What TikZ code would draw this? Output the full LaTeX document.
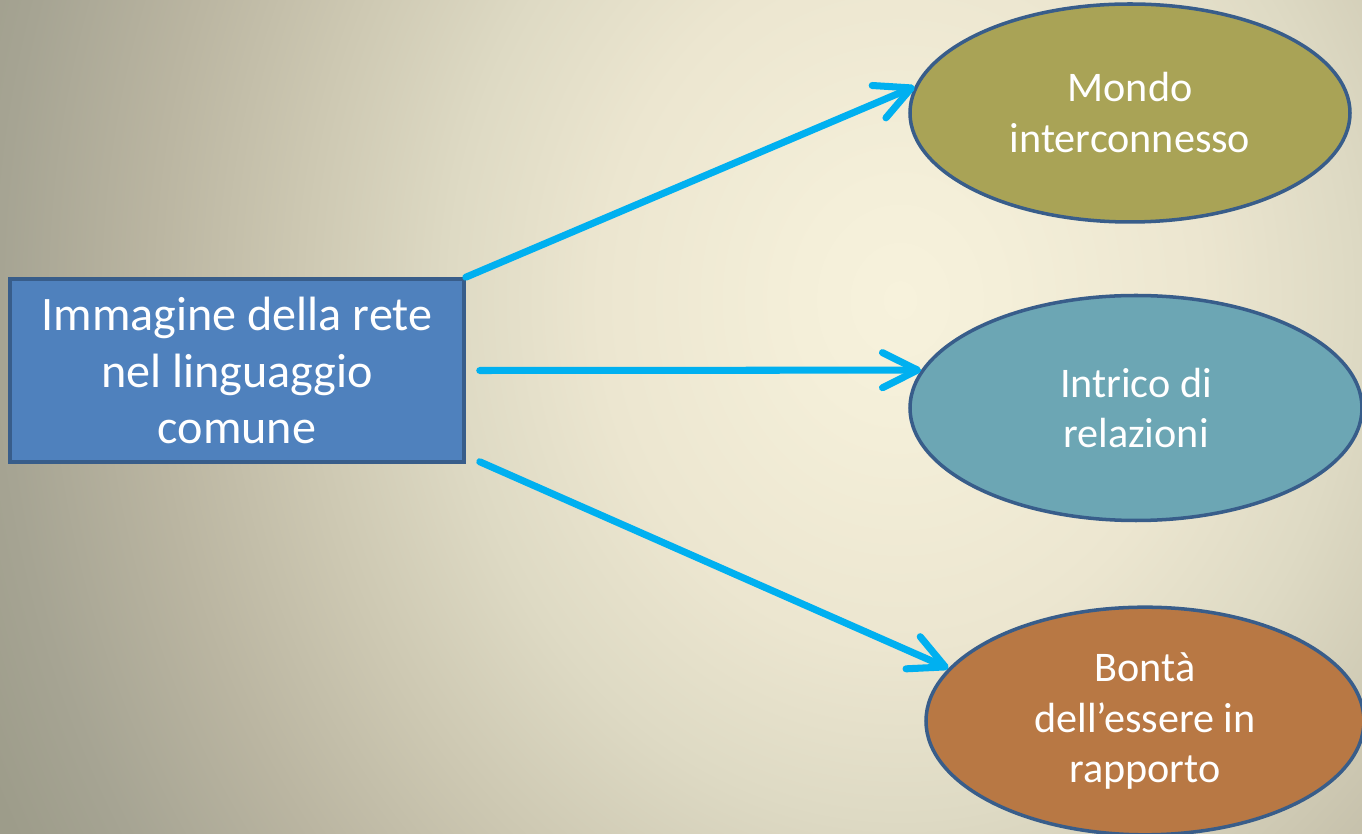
\documentclass[tikz,border=0pt]{standalone}
\usepackage{fontspec}
\setmainfont{Carlito}
\usepackage{tikz}
\usetikzlibrary{positioning, arrows.meta, shapes.geometric}

\definecolor{boxblue}{HTML}{4F81BD}
\definecolor{rim}{HTML}{385D8A}
\definecolor{olive}{HTML}{A9A356}
\definecolor{teal}{HTML}{6CA6B4}
\definecolor{clay}{HTML}{B87844}
\definecolor{arrowblue}{HTML}{00B0F0}

% slide background, 1bp = 0.4cm across
\pgfdeclareradialshading{slidebg}{\pgfpointorigin}{%
  color(0bp)=(rgb,255:red,247;green,242;blue,220);
  color(2.5bp)=(rgb,255:red,244;green,239;blue,217);
  color(7.5bp)=(rgb,255:red,236;green,230;blue,208);
  color(11.25bp)=(rgb,255:red,222;green,218;blue,196);
  color(15bp)=(rgb,255:red,205;green,200;blue,178);
  color(18.75bp)=(rgb,255:red,186;green,181;blue,161);
  color(22.5bp)=(rgb,255:red,166;green,164;blue,147);
  color(25bp)=(rgb,255:red,157;green,156;blue,138);
  color(50bp)=(rgb,255:red,157;green,156;blue,138)}

\begin{document}
\begin{tikzpicture}[
		box/.style={rectangle,draw=rim,line width=1pt,fill=boxblue,text=white,align=center,
			minimum width=4.54cm,minimum height=1.83cm,
			font=\fontsize{13.7}{16.2}\selectfont},
		bubble/.style={ellipse,draw=rim,line width=1pt,text=white,align=center,
			font=\fontsize{12}{14.5}\selectfont},
		link/.style={draw=arrowblue,line width=2pt,line cap=round,
			-{Straight Barb[length=10pt,width=10pt,round]}}]
		\useasboundingbox (0,0) rectangle (13.62,8.34);
		\begin{scope}
			\clip (0,0) rectangle (13.62,8.34);
			\shade[shading=slidebg] (-1,-6.16) rectangle (19,16.84);
		\end{scope}

		\node[box] (img) at (2.37,4.635) {Immagine della rete\\nel linguaggio\\comune};

		\node[bubble,fill=olive,minimum width=4.40cm,minimum height=2.18cm] (mondo) at (11.30,7.21) {Mondo\\interconnesso};
		\node[bubble,fill=teal,minimum width=4.52cm,minimum height=2.25cm] (intrico) at (11.36,4.26) {Intrico di\\relazioni};
		\node[bubble,fill=clay,minimum width=4.38cm,minimum height=2.24cm] (bonta) at (11.45,1.13) {Bontà\\dell’essere in\\rapporto};

		\draw[link] (img.north east) -- (mondo.173);
		\draw[link] ([xshift=0.14cm]img.east) -- (intrico.170);
		\draw[link] ([xshift=0.14cm,yshift=0.02cm]img.south east) -- (bonta.165);
\end{tikzpicture}
\end{document}
